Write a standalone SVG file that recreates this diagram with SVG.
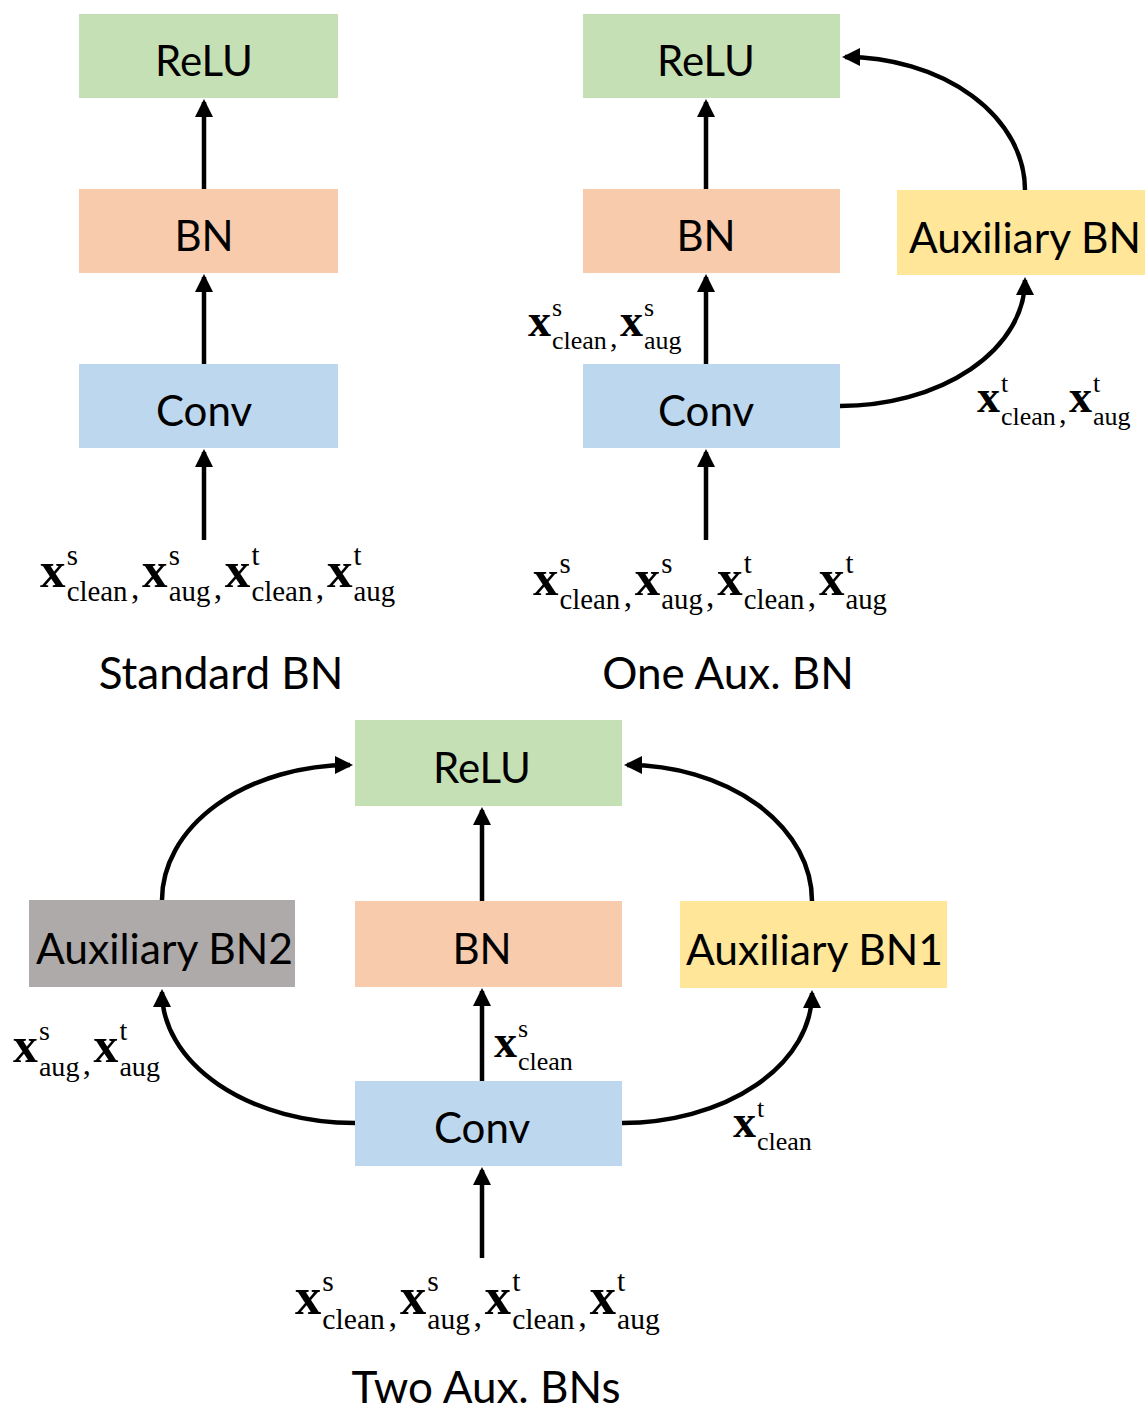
<svg xmlns="http://www.w3.org/2000/svg" width="1145" height="1413" viewBox="0 0 1145 1413">
  <style>
    .box-relu { fill: #C5E0B4; }
    .box-bn { fill: #F8CBAD; }
    .box-conv { fill: #BDD7EE; }
    .box-aux { fill: #FFE699; }
    .box-aux2 { fill: #AEAAAA; }
    .lbl { font-family: Lato, "Open Sans", sans-serif; font-size: 42px; fill: #000; }
    .ttl { font-family: Lato, "Open Sans", sans-serif; font-size: 44px; fill: #000; text-anchor: middle; }
    .mid { text-anchor: middle; }
    .edge { fill: none; stroke: #000; stroke-width: 4.5; }
    .m { font-family: "Liberation Serif", "Times New Roman", serif; fill: #000; }
    .mx { font-weight: bold; font-size: 46px; }
    .sc { font-size: 26px; }
    .cm { font-size: 30px; }
  </style>
  <defs>
    <marker id="head" viewBox="0 0 18 18" markerWidth="18" markerHeight="18" refX="15" refY="9" orient="auto" markerUnits="userSpaceOnUse">
      <path d="M0,0 L18,9 L0,18 z" fill="#000"/>
    </marker>
  </defs>

  <rect width="1145" height="1413" fill="#fff"/>

  <!-- Standard BN -->
  <g id="std-relu"><rect class="box-relu" x="79" y="14" width="259" height="84"/><text class="lbl mid" x="204" y="76">ReLU</text></g>
  <g id="std-bn"><rect class="box-bn" x="79" y="189" width="259" height="84"/><text class="lbl mid" x="204" y="251">BN</text></g>
  <g id="std-conv"><rect class="box-conv" x="79" y="364" width="259" height="84"/><text class="lbl mid" x="204" y="426">Conv</text></g>

  <!-- One auxiliary BN -->
  <g id="one-relu"><rect class="box-relu" x="583" y="14" width="257" height="84"/><text class="lbl mid" x="706" y="76">ReLU</text></g>
  <g id="one-bn"><rect class="box-bn" x="583" y="189" width="257" height="84"/><text class="lbl mid" x="706" y="251">BN</text></g>
  <g id="one-conv"><rect class="box-conv" x="583" y="364" width="257" height="84"/><text class="lbl mid" x="706" y="426">Conv</text></g>
  <g id="one-aux"><rect class="box-aux" x="897" y="190" width="248" height="85"/><text class="lbl" x="909" y="253" textLength="232" lengthAdjust="spacingAndGlyphs">Auxiliary BN</text></g>

  <!-- Two auxiliary BNs -->
  <g id="two-relu"><rect class="box-relu" x="355" y="720" width="267" height="86"/><text class="lbl mid" x="482" y="783">ReLU</text></g>
  <g id="two-bn"><rect class="box-bn" x="355" y="901" width="267" height="86"/><text class="lbl mid" x="482" y="964">BN</text></g>
  <g id="two-conv"><rect class="box-conv" x="355" y="1081" width="267" height="85"/><text class="lbl mid" x="482" y="1143">Conv</text></g>
  <g id="two-aux2"><rect class="box-aux2" x="29" y="900" width="266" height="87"/><text class="lbl" x="36" y="964" textLength="257" lengthAdjust="spacingAndGlyphs">Auxiliary BN2</text></g>
  <g id="two-aux1"><rect class="box-aux" x="680" y="901" width="267" height="87"/><text class="lbl" x="686" y="965" textLength="257" lengthAdjust="spacingAndGlyphs">Auxiliary BN1</text></g>

  <!-- connectors -->
  <g id="connectors" class="edge" marker-end="url(#head)">
    <path d="M204,189 V102"/>
    <path d="M204,364 V277"/>
    <path d="M204,540 V452"/>

    <path d="M706,189 V102"/>
    <path d="M706,364 V277"/>
    <path d="M706,540 V452"/>
    <path d="M840,406 A185,126 0 0 0 1025,280"/>
    <path d="M1025,190 A180,133 0 0 0 845,57"/>

    <path d="M482,901 V810"/>
    <path d="M482,1081 V991"/>
    <path d="M482,1258 V1170"/>
    <path d="M355,1123 A193,131 0 0 1 162,992"/>
    <path d="M162,900 A188,135 0 0 1 350,765"/>
    <path d="M622,1123 A190,130 0 0 0 812,993"/>
    <path d="M812,901 A185,136 0 0 0 627,765"/>
  </g>

  <!-- input feature labels -->
  <g id="in-std" transform="translate(40,587) scale(1.11)">
    <text class="m"><tspan class="mx" x="0" y="0">x</tspan><tspan class="sc" x="24" y="-20">s</tspan><tspan class="sc" x="24" y="13">clean</tspan><tspan class="cm" x="82" y="11">,</tspan><tspan class="mx" x="92" y="0">x</tspan><tspan class="sc" x="116" y="-20">s</tspan><tspan class="sc" x="116" y="13">aug</tspan><tspan class="cm" x="156.5" y="11">,</tspan><tspan class="mx" x="166.5" y="0">x</tspan><tspan class="sc" x="190.5" y="-20">t</tspan><tspan class="sc" x="190.5" y="13">clean</tspan><tspan class="cm" x="248.5" y="11">,</tspan><tspan class="mx" x="258.5" y="0">x</tspan><tspan class="sc" x="282.5" y="-20">t</tspan><tspan class="sc" x="282.5" y="13">aug</tspan></text>
  </g>
  <g id="in-one" transform="translate(533,595) scale(1.106)">
    <text class="m"><tspan class="mx" x="0" y="0">x</tspan><tspan class="sc" x="24" y="-20">s</tspan><tspan class="sc" x="24" y="13">clean</tspan><tspan class="cm" x="82" y="11">,</tspan><tspan class="mx" x="92" y="0">x</tspan><tspan class="sc" x="116" y="-20">s</tspan><tspan class="sc" x="116" y="13">aug</tspan><tspan class="cm" x="156.5" y="11">,</tspan><tspan class="mx" x="166.5" y="0">x</tspan><tspan class="sc" x="190.5" y="-20">t</tspan><tspan class="sc" x="190.5" y="13">clean</tspan><tspan class="cm" x="248.5" y="11">,</tspan><tspan class="mx" x="258.5" y="0">x</tspan><tspan class="sc" x="282.5" y="-20">t</tspan><tspan class="sc" x="282.5" y="13">aug</tspan></text>
  </g>
  <g id="in-two" transform="translate(295,1314) scale(1.14)">
    <text class="m"><tspan class="mx" x="0" y="0">x</tspan><tspan class="sc" x="24" y="-20">s</tspan><tspan class="sc" x="24" y="13">clean</tspan><tspan class="cm" x="82" y="11">,</tspan><tspan class="mx" x="92" y="0">x</tspan><tspan class="sc" x="116" y="-20">s</tspan><tspan class="sc" x="116" y="13">aug</tspan><tspan class="cm" x="156.5" y="11">,</tspan><tspan class="mx" x="166.5" y="0">x</tspan><tspan class="sc" x="190.5" y="-20">t</tspan><tspan class="sc" x="190.5" y="13">clean</tspan><tspan class="cm" x="248.5" y="11">,</tspan><tspan class="mx" x="258.5" y="0">x</tspan><tspan class="sc" x="282.5" y="-20">t</tspan><tspan class="sc" x="282.5" y="13">aug</tspan></text>
  </g>

  <!-- branch labels -->
  <g id="lbl-one-bn" transform="translate(528,336)">
    <text class="m"><tspan class="mx" x="0" y="0">x</tspan><tspan class="sc" x="24" y="-20">s</tspan><tspan class="sc" x="24" y="13">clean</tspan><tspan class="cm" x="82" y="11">,</tspan><tspan class="mx" x="92" y="0">x</tspan><tspan class="sc" x="116" y="-20">s</tspan><tspan class="sc" x="116" y="13">aug</tspan></text>
  </g>
  <g id="lbl-one-aux" transform="translate(977,412)">
    <text class="m"><tspan class="mx" x="0" y="0">x</tspan><tspan class="sc" x="24" y="-20">t</tspan><tspan class="sc" x="24" y="13">clean</tspan><tspan class="cm" x="82" y="11">,</tspan><tspan class="mx" x="92" y="0">x</tspan><tspan class="sc" x="116" y="-20">t</tspan><tspan class="sc" x="116" y="13">aug</tspan></text>
  </g>
  <g id="lbl-two-aux2" transform="translate(13,1062) scale(1.08)">
    <text class="m"><tspan class="mx" x="0" y="0">x</tspan><tspan class="sc" x="24" y="-20">s</tspan><tspan class="sc" x="24" y="13">aug</tspan><tspan class="cm" x="64.5" y="11">,</tspan><tspan class="mx" x="74.5" y="0">x</tspan><tspan class="sc" x="98.5" y="-20">t</tspan><tspan class="sc" x="98.5" y="13">aug</tspan></text>
  </g>
  <g id="lbl-two-bn" transform="translate(494,1057)">
    <text class="m"><tspan class="mx" x="0" y="0">x</tspan><tspan class="sc" x="24" y="-20">s</tspan><tspan class="sc" x="24" y="13">clean</tspan></text>
  </g>
  <g id="lbl-two-aux1" transform="translate(733,1137)">
    <text class="m"><tspan class="mx" x="0" y="0">x</tspan><tspan class="sc" x="24" y="-20">t</tspan><tspan class="sc" x="24" y="13">clean</tspan></text>
  </g>

  <!-- panel titles -->
  <text class="ttl" x="221" y="689">Standard BN</text>
  <text class="ttl" x="728" y="689">One Aux. BN</text>
  <text class="ttl" x="486" y="1403">Two Aux. BNs</text>
</svg>
